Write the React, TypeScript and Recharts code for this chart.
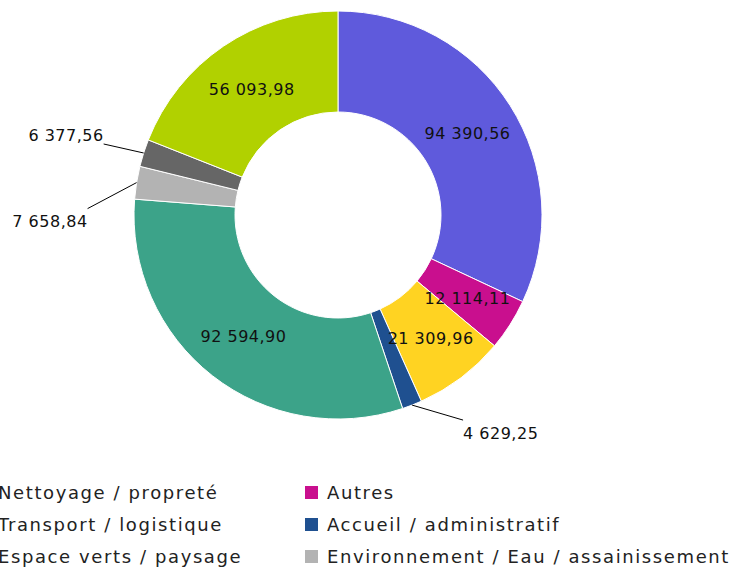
import { PieChart, Pie, Cell, Legend } from 'recharts';

const categories = [
  'Nettoyage / propreté',
  'Autres',
  'Transport / logistique',
  'Accueil / administratif',
  'Espace verts / paysage',
  'Environnement / Eau / assainissement',
  'Sécurité / gardiennage',
  'Restauration',
];
const amounts = [94390.56, 12114.11, 21309.96, 4629.25, 92594.9, 7658.84, 6377.56, 56093.98];
const colors = ['#5F5ADC', '#C90F8E', '#FFD322', '#1F5090', '#3CA389', '#B3B3B3', '#666666', '#B1D100'];

// manual leader offsets for the small slices (Excel style)
const outsideOffsets: Record<number, [number, number, 'start' | 'end', number]> = {
  3: [51, 15, 'start', 14],
  5: [-49, 26, 'end', 14],
  6: [-40, -9, 'end', -7],
};

const data = categories.map((name, i) => ({ name, value: amounts[i] }));

const FONT = '"DejaVu Sans", sans-serif';
const RAD = Math.PI / 180;

function fmt(v: number) {
  const [int, dec] = v.toFixed(2).split('.');
  return int.replace(/\B(?=(\d{3})+(?!\d))/g, ' ') + ',' + dec;
}

function renderLabel(props: any) {
  const { cx, cy, midAngle, innerRadius, outerRadius, value, index } = props;
  const cos = Math.cos(-midAngle * RAD);
  const sin = Math.sin(-midAngle * RAD);
  const off = outsideOffsets[index];
  const textProps = { fontSize: 16, fill: '#111', fontFamily: FONT, letterSpacing: 0.5, dominantBaseline: 'middle' as const };
  if (off) {
    const x0 = cx + outerRadius * cos;
    const y0 = cy + outerRadius * sin;
    const x1 = x0 + off[0];
    const y1 = y0 + off[1];
    return (
      <g key={index}>
        <line x1={x0} y1={y0} x2={x1} y2={y1} stroke="#000" strokeWidth={1} />
        <text x={x1} y={y1 + off[3]} textAnchor={off[2]} {...textProps}>
          {fmt(value)}
        </text>
      </g>
    );
  }
  const r = (innerRadius + outerRadius) / 2;
  return (
    <text key={index} x={cx + r * cos} y={cy + r * sin + 2} textAnchor="middle" {...textProps}>
      {fmt(value)}
    </text>
  );
}

function renderLegend() {
  return (
    <div style={{ display: 'grid', gridTemplateColumns: '329px 440px', rowGap: 10, fontFamily: FONT, fontSize: 18, letterSpacing: 1.6, color: '#222' }}>
      {categories.map((c, i) => (
        <div key={c} style={{ display: 'flex', alignItems: 'center', height: 22, whiteSpace: 'nowrap' }}>
          <span style={{ width: 13, height: 13, background: colors[i], marginRight: 9, flexShrink: 0 }} />
          {c}
        </div>
      ))}
    </div>
  );
}

export default function App() {
  return (
    <div style={{ position: 'absolute', left: 0, top: 0, width: 740, height: 570, overflow: 'hidden', background: '#fff' }}>
      <PieChart width={740} height={640} margin={{ top: 0, right: 0, bottom: 0, left: 0 }}>
        <Pie
          data={data}
          dataKey="value"
          nameKey="name"
          cx={338}
          cy={215}
          innerRadius={103}
          outerRadius={204}
          startAngle={90}
          endAngle={-270}
          stroke="#fff"
          strokeWidth={1}
          label={renderLabel}
          labelLine={false}
          isAnimationActive={false}
        >
          {data.map((d, i) => (
            <Cell key={d.name} fill={colors[i]} />
          ))}
        </Pie>
        <Legend content={renderLegend} wrapperStyle={{ left: -24, top: 481, width: 800 }} />
      </PieChart>
    </div>
  );
}
